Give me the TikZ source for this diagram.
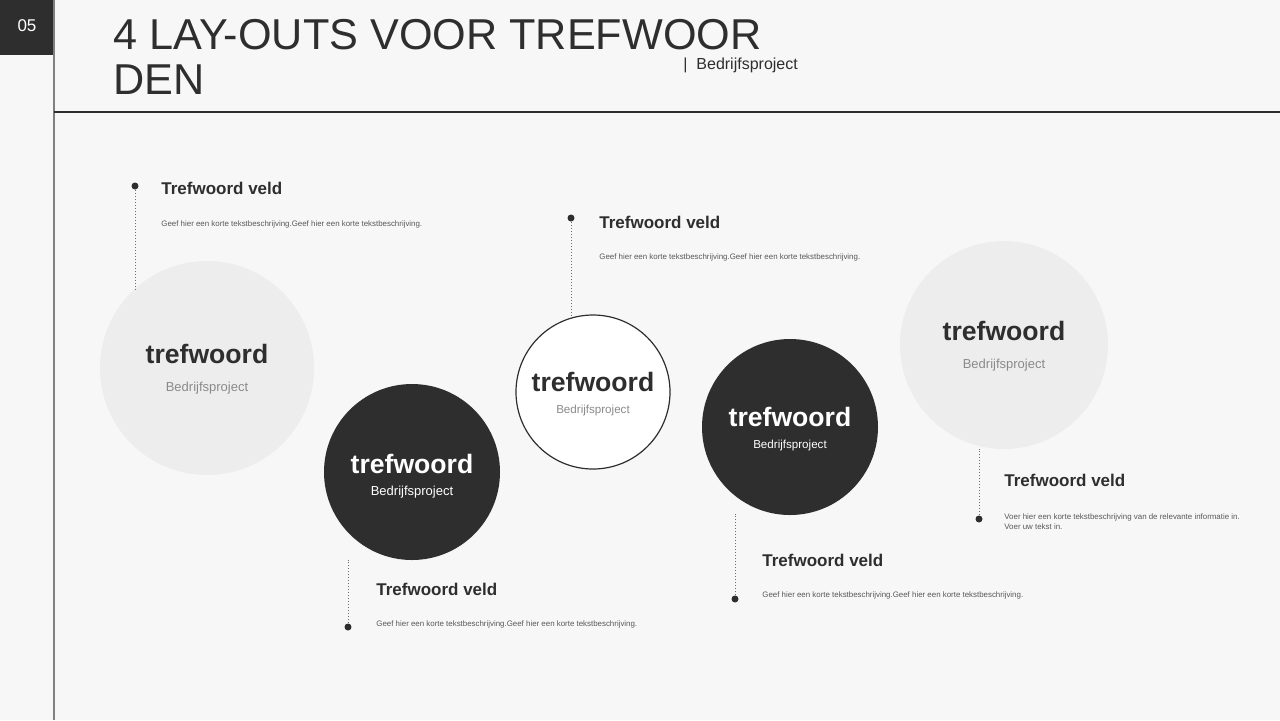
\documentclass[tikz,border=0pt]{standalone}
\usepackage{fontspec}
\setmainfont{Liberation Sans}
\definecolor{bg}{HTML}{F7F7F7}
\definecolor{dk}{HTML}{2E2E2E}
\definecolor{lg}{HTML}{EDEDED}
\definecolor{gt}{HTML}{8A8A8A}
\tikzset{
 head/.style={anchor=west,font=\fontsize{8.5}{10}\selectfont\bfseries,text=dk,inner sep=0},
 desc/.style={anchor=west,font=\fontsize{3.95}{5}\selectfont,text=dk!80,inner sep=0,align=left},
 kw/.style={font=\fontsize{13.3}{14}\selectfont\bfseries,inner sep=0},
 sub/.style={font=\fontsize{6.5}{8}\selectfont,inner sep=0},
 dotl/.style={dk!70,densely dotted,line width=0.5pt},
 pin/.style={circle,fill=dk,inner sep=0,minimum size=3.5pt},
}
\begin{document}
\begin{tikzpicture}[x=0.5pt,y=-0.5pt]
\fill[bg] (0,0) rectangle (1280,720);
\useasboundingbox (0,0) rectangle (1280,720);
\fill[dk] (0,0) rectangle (54,55);
\node[text=white,font=\fontsize{8.5}{10}\selectfont] (num) at (27,26) {05};
\draw[gray,line width=0.6pt] (54,0) -- (54,720);
\draw[dk,line width=0.6pt] (54,112) -- (1280,112);
\node[anchor=west,inner sep=0,text=dk,font=\fontsize{21.6}{22.5}\selectfont,align=left] (title) at (113,57) {4 LAY-OUTS VOOR TREFWOOR\\DEN};
\node[anchor=west,inner sep=0,text=dk,font=\fontsize{8}{10}\selectfont] (tag) at (683,65) {|\ \ Bedrijfsproject};
% circles
\fill[lg] (207,368) circle (107);
\fill[dk] (412,472) circle (88);
\draw[dk,fill=white,line width=0.6pt] (593,392) circle (77);
\fill[dk] (790,427) circle (88);
\fill[lg] (1004,345) circle (104);
\node[kw,text=dk] (k1) at (207,354) {trefwoord};
\node[sub,text=gt] (s1) at (207,388) {Bedrijfsproject};
\node[kw,text=white] (k2) at (412,464) {trefwoord};
\node[sub,text=white!85] (s2) at (412,492) {Bedrijfsproject};
\node[kw,text=dk] (k3) at (593,382) {trefwoord};
\node[sub,text=gt,font=\fontsize{5.8}{7}\selectfont] (s3) at (593,410) {Bedrijfsproject};
\node[kw,text=white] (k4) at (790,417) {trefwoord};
\node[sub,text=white!85,font=\fontsize{5.8}{7}\selectfont] (s4) at (790,445) {Bedrijfsproject};
\node[kw,text=dk] (k5) at (1004,331) {trefwoord};
\node[sub,text=gt] (s5) at (1004,365) {Bedrijfsproject};
% pins
\node[pin] (p1) at (135,186) {}; \coordinate (e1) at (135,290);
\node[pin] (p2) at (571,218) {}; \coordinate (e2) at (571,316);
\node[pin] (p3) at (348,627) {}; \coordinate (e3) at (348,560);
\node[pin] (p4) at (735,599) {}; \coordinate (e4) at (735,514);
\node[pin] (p5) at (979,519) {}; \coordinate (e5) at (979,449);
\foreach \i in {1,...,5} \draw[dotl] (p\i) -- (e\i);
\node[head] (h1) at (161,188) {Trefwoord veld};
\node[desc] (d1) at (161,224) {Geef hier een korte tekstbeschrijving.Geef hier een korte tekstbeschrijving.};
\node[head] (h2) at (599,222) {Trefwoord veld};
\node[desc] (d2) at (599,257) {Geef hier een korte tekstbeschrijving.Geef hier een korte tekstbeschrijving.};
\node[head] (h3) at (376,589) {Trefwoord veld};
\node[desc] (d3) at (376,624) {Geef hier een korte tekstbeschrijving.Geef hier een korte tekstbeschrijving.};
\node[head] (h4) at (762,560) {Trefwoord veld};
\node[desc] (d4) at (762,595) {Geef hier een korte tekstbeschrijving.Geef hier een korte tekstbeschrijving.};
\node[head] (h5) at (1004,480) {Trefwoord veld};
\node[desc] (d5) at (1004,522) {Voer hier een korte tekstbeschrijving van de relevante informatie in.\\Voer uw tekst in.};
\end{tikzpicture}
\end{document}
